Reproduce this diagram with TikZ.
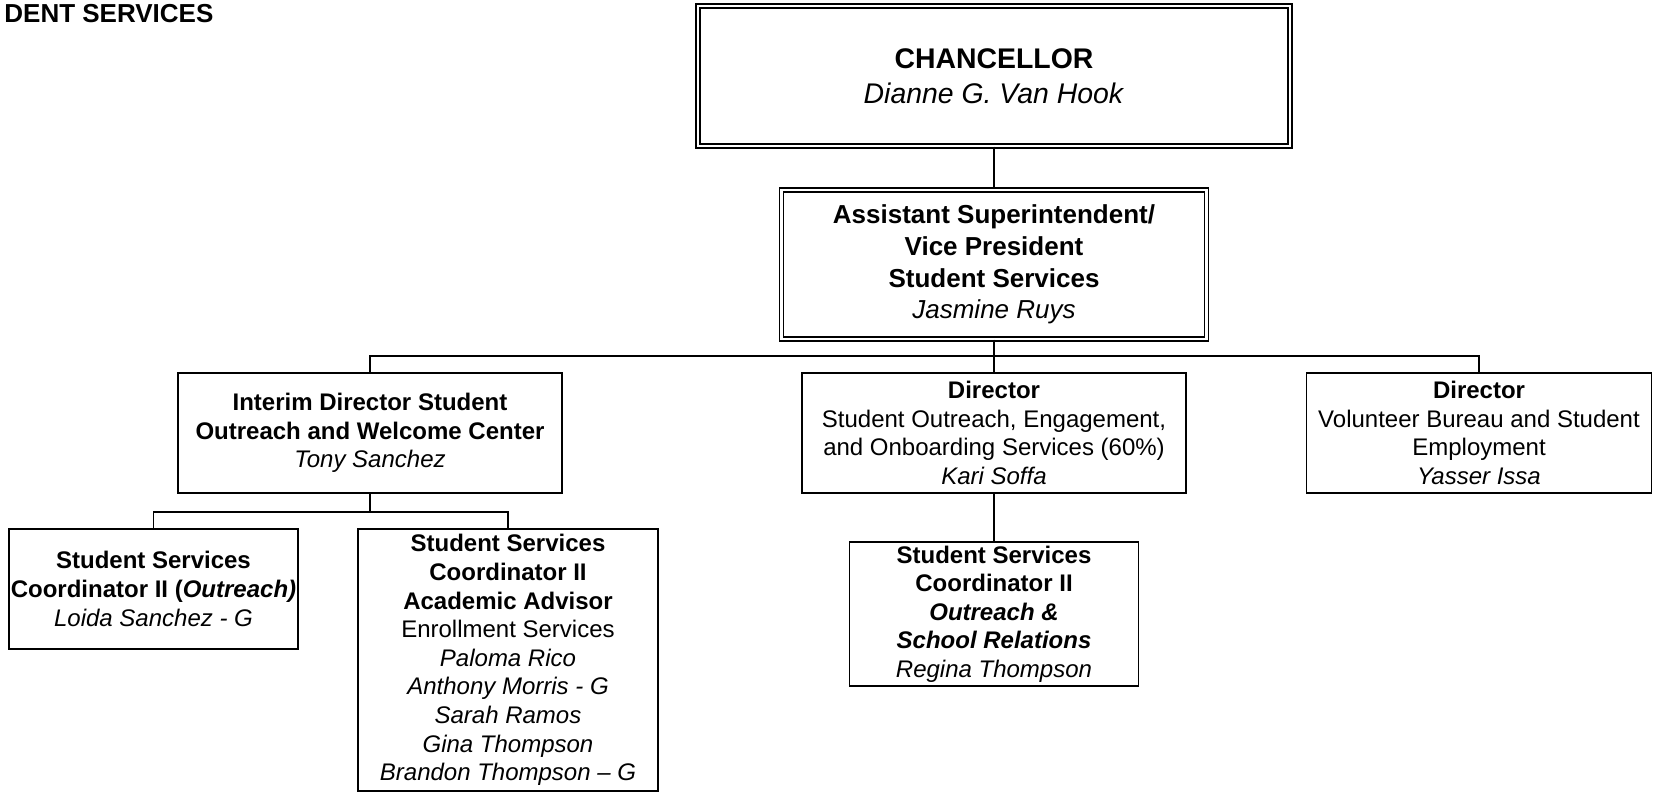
\documentclass[tikz,border=0pt]{standalone}
\usepackage{fontspec}
\setmainfont{Liberation Sans}
\begin{document}
\begin{tikzpicture}[x=0.5pt,y=-0.5pt,
  box/.style={draw,line width=0.9pt,align=center,inner sep=0pt,font=\fontsize{12}{14.3}\selectfont},
  dbox/.style={draw,line width=0.6pt,double,double distance=1.4pt,align=center,inner sep=0pt},
  conn/.style={line width=0.7pt}]
\useasboundingbox (0,0) rectangle (1653,795);
\node[anchor=base west,font=\fontsize{13}{15}\selectfont\bfseries,inner sep=0pt] (title) at (4,22.7) {DENT SERVICES};
\node[dbox,minimum width=296pt,minimum height=70pt,font=\fontsize{14.2}{17.5}\selectfont] (chan) at (994,76)
  {\textbf{CHANCELLOR}\\\textit{Dianne G. Van Hook}};
\node[dbox,minimum width=212.5pt,minimum height=74.5pt,font=\fontsize{13}{15.8}\selectfont] (asst) at (994,264.5)
  {\textbf{Assistant Superintendent/}\\\textbf{Vice President}\\\textbf{Student Services}\\\textit{Jasmine Ruys}};
\node[box,minimum width=192pt,minimum height=60pt] (interim) at (370,433)
  {\textbf{Interim Director Student}\\\textbf{Outreach and Welcome Center}\\\textit{Tony Sanchez}};
\node[box,minimum width=192pt,minimum height=60pt] (dir) at (994,433)
  {\textbf{Director}\\Student Outreach, Engagement,\\and Onboarding Services (60\%)\\\textit{Kari Soffa}};
\node[box,minimum width=172.5pt,minimum height=60pt] (vol) at (1479,433)
  {\textbf{Director}\\Volunteer Bureau and Student\\Employment\\\textit{Yasser Issa}};
\node[box,minimum width=144.5pt,minimum height=60pt] (loida) at (153.5,589)
  {\textbf{Student Services}\\\textbf{Coordinator II (\textit{Outreach)}}\\\textit{Loida Sanchez - G}};
\node[box,minimum width=150pt,minimum height=131pt] (acad) at (508,660)
  {\textbf{Student Services}\\\textbf{Coordinator II}\\\textbf{Academic Advisor}\\Enrollment Services\\\textit{Paloma Rico}\\\textit{Anthony Morris - G}\\\textit{Sarah Ramos}\\\textit{Gina Thompson}\\\textit{Brandon Thompson – G}};
\node[box,minimum width=144.5pt,minimum height=72pt] (regina) at (994,614)
  {\textbf{Student Services}\\\textbf{Coordinator II}\\\textbf{\textit{Outreach \&}}\\\textbf{\textit{School Relations}}\\\textit{Regina Thompson}};
\coordinate (bus) at (994,356);
\coordinate (ibus) at (370,512);
\draw[conn] (chan.south) -- (asst.north);
\draw[conn] (asst.south) -- (bus);
\draw[conn] (bus) -| (interim.north);
\draw[conn] (bus) -| (vol.north);
\draw[conn] (bus) -- (dir.north);
\draw[conn] (interim.south) -- (ibus);
\draw[conn] (ibus) -| (loida.north);
\draw[conn] (ibus) -| (acad.north);
\draw[conn] (dir.south) -- (regina.north);
\end{tikzpicture}
\end{document}
